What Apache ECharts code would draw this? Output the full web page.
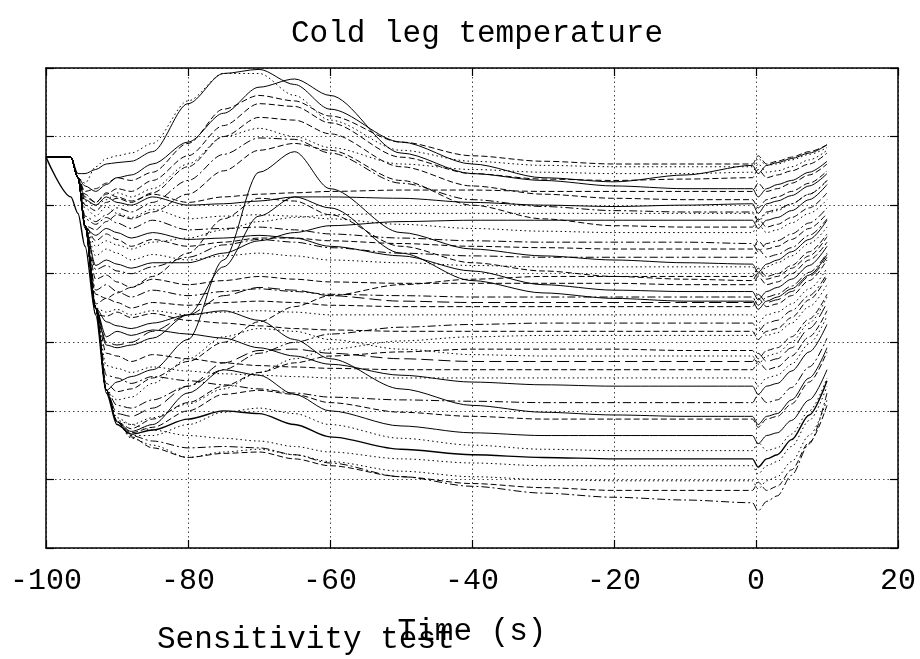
<!DOCTYPE html>
<html>
<head>
<meta charset="utf-8">
<title>Cold leg temperature</title>
<script src="https://cdn.jsdelivr.net/npm/echarts@6/dist/echarts.min.js"></script>
<style>
  html, body { margin: 0; padding: 0; background: #fff; }
  #main { width: 920px; height: 659px; }
</style>
</head>
<body>
<div id="main"></div>
<script>
// sample times (s), shared by every run
const times = [-100, -96.5, -95.5, -94.5, -93, -91.5, -90, -88, -85, -80, -75, -70, -65, -60, -50, -40, -30, -20, -10, -0.5, 0.3, 1.5, 3, 5, 7.5, 10];
const xTicks = [-100, -80, -60, -40, -20, 0, 20];
const yRange = [530, 565]; // K, axis has no labels in the original

// cold leg temperature of each sensitivity run (K)
const run01 = [558.5, 558.5, 557.3, 557.3, 557.6, 558.0, 558.1, 558.2, 558.9, 562.4, 564.6, 564.9, 563.8, 562.0, 559.6, 558.0, 557.0, 556.7, 557.2, 557.9, 557.3, 557.9, 558.1, 558.4, 558.8, 559.4];
const run02 = [558.5, 558.5, 557.0, 556.6, 557.8, 558.4, 558.6, 558.8, 559.5, 562.6, 564.6, 564.6, 563.0, 561.2, 559.0, 558.2, 557.9, 557.8, 557.8, 557.8, 558.4, 557.9, 558.0, 558.3, 558.7, 559.2];
const run03 = [558.5, 558.5, 557.0, 556.4, 556.0, 556.5, 557.0, 557.2, 558.0, 559.6, 561.7, 563.6, 564.2, 563.0, 558.8, 557.3, 556.8, 556.4, 556.2, 556.2, 555.6, 556.2, 556.5, 556.8, 557.4, 558.2];
const run04 = [558.5, 558.5, 557.0, 555.6, 555.2, 555.8, 556.2, 556.0, 556.8, 558.6, 560.8, 562.4, 562.2, 561.0, 558.5, 557.3, 556.9, 556.8, 556.9, 557.0, 557.6, 557.0, 557.2, 557.5, 558.0, 558.8];
const run05 = [558.5, 558.5, 557.0, 555.0, 554.6, 555.2, 555.5, 555.2, 555.9, 557.8, 560.0, 561.4, 561.2, 560.2, 557.8, 556.4, 555.8, 555.5, 555.4, 555.4, 554.8, 555.4, 555.6, 556.0, 556.6, 557.5];
const run06 = [558.5, 558.5, 557.0, 555.3, 555.0, 555.4, 555.9, 555.6, 556.2, 558.0, 560.0, 560.6, 560.0, 559.2, 558.0, 557.6, 557.4, 557.3, 557.3, 557.4, 558.0, 557.4, 557.5, 557.8, 558.3, 559.0];
const run07 = [558.5, 558.5, 557.0, 554.2, 553.8, 554.3, 554.8, 554.5, 555.2, 556.8, 558.7, 559.9, 559.8, 558.8, 556.6, 555.4, 554.9, 554.6, 554.5, 554.5, 553.9, 554.5, 554.7, 555.1, 555.8, 556.8];
const run08 = [558.5, 558.5, 557.0, 553.5, 553.2, 553.8, 554.3, 554.0, 554.5, 555.8, 557.5, 559.0, 559.5, 559.0, 556.8, 555.0, 554.0, 553.5, 553.4, 553.4, 554.0, 553.4, 553.6, 554.1, 554.8, 555.9];
const run09 = [558.5, 558.5, 557.0, 553.5, 547.5, 541.5, 542.1, 542.5, 543.0, 545.2, 551.0, 557.4, 558.9, 556.2, 553.0, 551.8, 551.3, 551.0, 550.8, 550.7, 550.1, 550.7, 551.0, 551.6, 552.5, 553.9];
const run10 = [558.5, 558.5, 557.0, 553.5, 547.5, 544.8, 544.6, 544.8, 545.3, 547.0, 550.5, 554.2, 555.6, 554.8, 551.5, 549.5, 548.6, 548.2, 548.0, 548.0, 547.4, 548.0, 548.3, 548.9, 549.9, 551.4];
const run11 = [558.5, 558.5, 557.0, 553.5, 548.5, 548.2, 548.6, 549.0, 549.8, 551.5, 554.0, 555.5, 555.3, 554.3, 552.0, 550.8, 550.2, 549.8, 549.6, 549.5, 550.1, 549.6, 549.8, 550.4, 551.3, 552.7];
const run12 = [558.5, 558.5, 557.0, 555.8, 555.2, 555.9, 555.6, 555.3, 555.8, 555.2, 555.6, 555.8, 555.9, 556.0, 556.1, 556.1, 556.0, 556.0, 556.0, 556.0, 556.6, 556.0, 556.2, 556.6, 557.2, 558.0];
const run13 = [558.5, 558.5, 557.0, 555.4, 555.0, 555.6, 555.2, 555.0, 555.6, 555.0, 555.1, 555.3, 555.6, 555.6, 555.5, 555.2, 555.0, 554.9, 555.0, 555.1, 554.4, 555.1, 555.3, 555.7, 556.4, 557.3];
const run14 = [558.5, 558.5, 557.0, 554.8, 554.2, 554.9, 554.4, 554.1, 554.7, 554.0, 554.2, 554.3, 554.2, 554.0, 553.6, 553.3, 553.1, 553.0, 553.0, 553.0, 553.6, 553.0, 553.2, 553.7, 554.4, 555.4];
const run15 = [558.5, 558.5, 557.0, 554.0, 553.6, 554.1, 553.7, 553.3, 553.9, 553.2, 553.3, 553.4, 553.2, 552.9, 552.6, 552.4, 552.3, 552.3, 552.3, 552.2, 551.6, 552.2, 552.4, 552.9, 553.7, 554.8];
const run16 = [558.5, 558.5, 557.0, 553.3, 552.8, 553.3, 553.0, 552.6, 553.0, 552.5, 552.6, 552.8, 552.6, 552.0, 551.3, 550.2, 549.2, 548.8, 548.7, 548.7, 548.1, 548.7, 549.0, 549.6, 550.6, 552.0];
const run17 = [558.5, 558.5, 557.0, 553.5, 552.4, 552.9, 552.5, 552.0, 552.5, 552.0, 552.3, 552.6, 552.6, 552.4, 552.2, 552.0, 551.9, 551.8, 551.8, 551.8, 552.4, 551.8, 552.0, 552.5, 553.3, 554.4];
const run18 = [558.5, 558.5, 557.0, 553.5, 551.3, 551.8, 551.5, 551.0, 551.4, 551.0, 551.3, 551.5, 551.3, 551.0, 550.8, 550.6, 550.5, 550.5, 550.5, 550.5, 549.9, 550.5, 550.8, 551.3, 552.2, 553.4];
const run19 = [558.5, 558.5, 557.0, 553.5, 550.6, 551.0, 550.7, 550.4, 550.8, 550.8, 551.5, 552.4, 553.0, 553.5, 553.8, 553.9, 553.9, 553.9, 553.9, 553.9, 553.3, 553.9, 554.1, 554.6, 555.4, 556.5];
const run20 = [558.5, 558.5, 557.0, 553.5, 549.6, 549.9, 549.4, 549.0, 549.6, 549.2, 549.5, 549.8, 549.6, 549.4, 549.3, 549.3, 549.3, 549.3, 549.2, 549.2, 549.8, 549.2, 549.4, 550.0, 551.0, 552.3];
const run21 = [558.5, 558.5, 557.0, 553.5, 548.8, 549.2, 548.7, 548.3, 548.8, 548.4, 548.7, 548.9, 548.7, 548.5, 548.4, 548.3, 548.3, 548.3, 548.3, 548.3, 547.7, 548.3, 548.5, 549.1, 550.1, 551.5];
const run22 = [558.5, 558.5, 557.0, 553.5, 547.8, 548.2, 547.9, 547.5, 547.9, 547.7, 547.9, 548.0, 547.9, 547.7, 547.6, 547.6, 547.6, 547.6, 547.6, 547.6, 548.2, 547.6, 547.8, 548.4, 549.5, 551.0];
const run23 = [558.5, 558.5, 557.0, 553.5, 547.5, 547.2, 547.4, 547.0, 547.3, 547.0, 547.2, 547.3, 547.2, 547.0, 547.0, 547.0, 547.0, 547.0, 547.0, 547.0, 546.4, 547.0, 547.2, 547.8, 548.9, 550.4];
const run24 = [558.5, 558.5, 557.0, 553.5, 547.5, 542.0, 541.4, 541.6, 542.4, 543.6, 545.0, 546.5, 547.6, 548.4, 549.2, 549.6, 549.8, 549.8, 549.8, 549.8, 550.4, 549.8, 550.0, 550.6, 551.6, 552.9];
const run25 = [558.5, 558.5, 557.0, 553.5, 547.5, 541.5, 540.4, 540.2, 540.8, 541.8, 543.0, 544.2, 545.0, 545.6, 546.1, 546.3, 546.4, 546.4, 546.4, 546.4, 545.8, 546.4, 546.6, 547.3, 548.4, 550.0];
const run26 = [558.5, 558.5, 557.0, 553.5, 547.5, 541.5, 539.3, 539.0, 539.5, 540.5, 541.6, 542.8, 543.8, 544.5, 545.1, 545.4, 545.5, 545.5, 545.5, 545.5, 546.1, 545.5, 545.7, 546.4, 547.6, 549.2];
const run27 = [558.5, 558.5, 557.0, 553.5, 547.5, 541.5, 539.2, 538.5, 539.0, 541.3, 543.0, 542.6, 541.2, 540.0, 538.9, 538.4, 538.2, 538.2, 538.2, 538.2, 537.6, 538.2, 538.4, 539.3, 540.8, 543.0];
const run28 = [558.5, 558.5, 557.0, 553.5, 547.5, 541.5, 539.2, 538.7, 539.4, 540.6, 541.8, 542.8, 543.5, 544.0, 544.3, 544.5, 544.5, 544.5, 544.4, 544.4, 543.8, 544.4, 544.6, 545.4, 546.7, 548.5];
const run29 = [558.5, 558.5, 557.0, 553.5, 547.5, 541.5, 539.8, 539.6, 540.2, 541.8, 543.5, 544.4, 544.5, 544.2, 543.8, 543.6, 543.6, 543.6, 543.6, 543.6, 544.2, 543.6, 543.8, 544.6, 546.0, 547.9];
const run30 = [558.5, 558.5, 557.0, 553.5, 547.5, 545.4, 545.8, 545.5, 545.9, 545.6, 545.3, 544.6, 544.0, 543.4, 542.6, 542.1, 541.9, 541.8, 541.8, 541.8, 541.2, 541.8, 542.0, 542.9, 544.3, 546.3];
const run31 = [558.5, 558.5, 557.0, 553.5, 547.5, 544.2, 544.0, 543.6, 544.1, 543.8, 543.5, 543.3, 543.2, 543.1, 543.0, 543.0, 543.0, 543.0, 543.0, 543.0, 543.6, 543.0, 543.2, 544.0, 545.4, 547.3];
const run32 = [558.5, 558.5, 557.0, 553.5, 547.5, 543.3, 543.1, 542.8, 543.2, 542.9, 542.7, 542.6, 542.5, 542.4, 542.4, 542.4, 542.4, 542.4, 542.4, 542.4, 541.8, 542.4, 542.6, 543.4, 544.9, 546.9];
const run33 = [558.5, 558.5, 557.0, 553.5, 547.5, 542.6, 542.4, 542.0, 542.5, 542.2, 541.9, 541.6, 541.3, 541.0, 540.8, 540.7, 540.6, 540.6, 540.6, 540.6, 541.2, 540.6, 540.8, 541.7, 543.2, 545.3];
const run34 = [558.5, 558.5, 557.0, 553.5, 547.5, 541.5, 539.2, 538.4, 538.8, 540.0, 541.2, 541.5, 541.2, 540.6, 539.9, 539.6, 539.4, 539.4, 539.4, 539.4, 538.8, 539.4, 539.6, 540.5, 542.1, 544.3];
const run35 = [558.5, 558.5, 557.0, 553.5, 547.5, 541.5, 539.2, 538.2, 538.2, 539.0, 539.9, 540.2, 539.8, 539.0, 538.0, 537.5, 537.2, 537.1, 537.1, 537.1, 537.7, 537.1, 537.3, 538.3, 540.0, 542.4];
const run36 = [558.5, 558.5, 557.0, 553.5, 547.5, 541.5, 539.2, 538.0, 537.5, 536.6, 537.0, 537.2, 536.8, 536.3, 535.6, 535.2, 535.0, 534.9, 534.9, 534.9, 534.3, 534.9, 535.2, 536.3, 538.2, 540.8];
const run37 = [558.5, 558.5, 557.0, 553.5, 547.5, 541.5, 539.2, 538.1, 537.3, 536.6, 536.9, 537.0, 536.5, 536.0, 535.2, 534.7, 534.4, 534.2, 534.2, 534.2, 534.8, 534.2, 534.5, 535.7, 537.7, 540.4];
const run38 = [558.5, 558.5, 557.0, 553.5, 547.5, 541.5, 539.2, 538.2, 537.8, 537.3, 537.4, 537.3, 536.8, 536.2, 535.2, 534.5, 534.0, 533.7, 533.5, 533.3, 532.7, 533.4, 533.8, 535.3, 537.6, 541.3];
const run39 = [558.5, 558.5, 557.0, 553.5, 547.5, 541.5, 539.5, 539.0, 538.6, 538.2, 538.0, 537.8, 537.4, 537.0, 536.5, 536.2, 536.0, 536.0, 536.0, 536.0, 535.4, 536.0, 536.3, 537.4, 539.3, 541.8];
const run40 = [558.5, 558.5, 557.0, 553.5, 547.5, 546.5, 546.2, 546.0, 546.4, 547.0, 547.3, 546.6, 545.2, 543.8, 541.6, 540.4, 539.9, 539.7, 539.6, 539.6, 539.0, 539.6, 539.8, 540.8, 542.4, 544.6];
const run41 = [558.5, 558.5, 557.0, 553.5, 547.0, 546.9, 547.2, 546.8, 547.1, 546.6, 546.4, 546.2, 546.0, 545.9, 545.8, 545.8, 545.8, 545.8, 545.8, 545.8, 545.2, 545.8, 546.0, 546.8, 548.1, 549.8];
const run42 = [558.5, 558.5, 557.0, 553.5, 550.3, 550.6, 550.2, 550.0, 550.5, 551.2, 552.1, 552.5, 552.3, 551.9, 551.5, 551.3, 551.2, 551.2, 551.2, 551.2, 551.8, 551.2, 551.4, 551.9, 552.8, 554.0];
const run43 = [558.5, 558.5, 557.0, 553.5, 552.0, 552.4, 552.1, 551.8, 552.3, 552.6, 553.2, 553.8, 554.1, 554.3, 554.4, 554.4, 554.4, 554.4, 554.4, 554.4, 553.8, 554.4, 554.6, 555.1, 555.8, 556.8];
const run44 = [558.5, 558.5, 557.0, 556.0, 556.2, 556.6, 557.0, 556.8, 557.4, 559.5, 562.0, 563.0, 562.6, 561.5, 559.6, 558.6, 558.2, 558.0, 558.0, 558.0, 558.6, 558.0, 558.2, 558.5, 558.9, 559.4];
const run45 = [558.5, 558.5, 557.0, 553.5, 547.5, 545.0, 544.8, 545.0, 545.8, 547.0, 548.4, 549.0, 548.8, 548.4, 548.0, 547.9, 547.9, 547.9, 547.9, 547.9, 548.5, 547.9, 548.1, 548.7, 549.8, 551.2];
const run46 = [558.5, 558.5, 557.0, 553.5, 547.5, 541.5, 540.8, 541.0, 542.0, 543.8, 545.4, 546.0, 545.8, 545.2, 544.5, 544.1, 544.0, 544.0, 544.0, 544.0, 543.4, 544.0, 544.2, 545.0, 546.4, 548.3];
const run47 = [558.5, 555.6, 554.4, 552.0, 547.0, 541.3, 539.0, 538.3, 538.6, 539.4, 540.0, 539.8, 539.0, 538.1, 537.2, 536.8, 536.6, 536.5, 536.5, 536.5, 535.9, 536.5, 536.8, 537.9, 539.7, 542.2];

const runs = [run01, run02, run03, run04, run05, run06, run07, run08, run09, run10,
  run11, run12, run13, run14, run15, run16, run17, run18, run19, run20,
  run21, run22, run23, run24, run25, run26, run27, run28, run29, run30,
  run31, run32, run33, run34, run35, run36, run37, run38, run39, run40,
  run41, run42, run43, run44, run45, run46, run47];
// S solid, D dashed, O dotted, DD dash-dot, L long dash
const runStyles = ['S', 'O', 'S', 'D', 'D', 'O', 'DD', 'D', 'S', 'S',
  'D', 'D', 'S', 'O', 'DD', 'S', 'D', 'O', 'S', 'D',
  'DD', 'D', 'O', 'D', 'DD', 'O', 'S', 'D', 'L', 'S',
  'D', 'O', 'DD', 'D', 'O', 'O', 'D', 'DD', 'O', 'S',
  'D', 'DD', 'O', 'D', 'L', 'O', 'S'];

const dashes = {
  S: 'solid',
  D: [6, 3],
  O: [1.5, 3],
  DD: [8, 3, 2, 3],
  L: [12, 5]
};

const font = 'Liberation Mono';

const chart = echarts.init(document.getElementById('main'));

let series = runs.map(function (run, i) {
  return {
    type: 'line',
    data: times.map(function (t, j) { return [t, run[j]]; }),
    showSymbol: false,
    symbol: 'none',
    smooth: 0.3,
    smoothMonotone: 'x',
    silent: true,
    lineStyle: {
      color: '#000',
      width: i === runs.length - 1 ? 1.4 : 1,
      type: dashes[runStyles[i]]
    }
  };
});

const frameLine = { show: true, onZero: false, lineStyle: { color: '#000', width: 1.5 } };
const frameTick = { show: true, inside: true, length: 8, lineStyle: { color: '#000', width: 1.2 } };
const gridLine = { show: true, lineStyle: { color: '#444', width: 1, type: [1.5, 3] } };

let option = {
  animation: false,
  backgroundColor: '#fff',
  title: {
    text: 'Cold leg temperature',
    left: 472,
    top: 13,
    textAlign: 'center',
    textStyle: { fontFamily: font, fontSize: 31, fontWeight: 'normal', color: '#000' }
  },
  grid: { left: 46, right: 22, top: 68, bottom: 111 },
  xAxis: [{
    type: 'value',
    min: xTicks[0],
    max: xTicks[xTicks.length - 1],
    interval: 20,
    name: 'Time (s)',
    nameLocation: 'middle',
    nameGap: 68,
    nameTextStyle: { fontFamily: font, fontSize: 31, color: '#000' },
    axisLine: frameLine,
    axisTick: frameTick,
    axisLabel: { fontFamily: font, fontSize: 30, color: '#000', margin: 18 },
    splitLine: gridLine
  }, {
    type: 'value',
    position: 'top',
    min: xTicks[0],
    max: xTicks[xTicks.length - 1],
    interval: 20,
    axisLine: frameLine,
    axisTick: frameTick,
    axisLabel: { show: false },
    splitLine: { show: false }
  }],
  yAxis: [{
    type: 'value',
    min: yRange[0],
    max: yRange[1],
    interval: 5,
    axisLine: frameLine,
    axisTick: frameTick,
    axisLabel: { show: false },
    splitLine: gridLine
  }, {
    type: 'value',
    position: 'right',
    min: yRange[0],
    max: yRange[1],
    interval: 5,
    axisLine: frameLine,
    axisTick: frameTick,
    axisLabel: { show: false },
    splitLine: { show: false }
  }],
  graphic: [{
    type: 'text',
    left: 157,
    top: 624,
    style: { text: 'Sensitivity test', font: '31px "Liberation Mono"', fill: '#000' }
  }],
  series: series
};

chart.setOption(option);
</script>
</body>
</html>
